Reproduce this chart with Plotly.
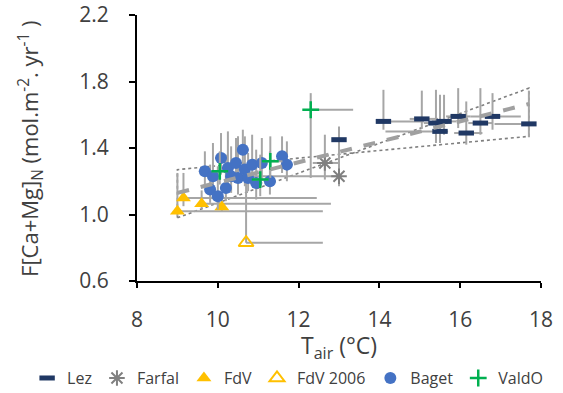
import plotly.graph_objects as go

# ---------------- data ----------------
lez_x = [13.0, 14.1, 15.05, 15.4, 15.5, 15.6, 15.95, 16.15, 16.5, 16.8, 17.7]
lez_y = [1.45, 1.56, 1.575, 1.55, 1.50, 1.56, 1.59, 1.49, 1.55, 1.59, 1.545]
lez_ey_plus = [0.08, 0.19, 0.17, 0.20, 0.22, 0.16, 0.17, 0.19, 0.21, 0.14, 0.20]
lez_ey_minus = [0.25, 0.05, 0.06, 0.12, 0.07, 0.08, 0.07, 0.07, 0.07, 0.08, 0.08]
lez_ex_plus = [0.0, 1.0, 0.4, 0.3, 0.2, 0.3, 0.3, 0.4, 0.3, 0.7, 0.0]
lez_ex_minus = [0.0, 0.0, 0.3, 0.3, 1.35, 0.3, 0.3, 0.3, 0.3, 0.55, 0.85]

far_x = [12.65, 13.0]
far_y = [1.31, 1.23]
far_ey_plus = [0.17, 0.12]
far_ey_minus = [0.10, 0.06]
far_ex_plus = [0.35, 0.0]
far_ex_minus = [0.3, 2.3]

fdv_x = [9.0, 9.15, 9.6, 10.1]
fdv_y = [1.02, 1.10, 1.065, 1.045]
fdv_ey_plus = [0.23, 0.15, 0.08, 0.05]
fdv_ey_minus = [0.03, 0.05, 0.03, 0.03]
fdv_ex_plus = [3.6, 3.3, 3.2, 0.0]
fdv_ex_minus = [0.0, 0.0, 0.0, 0.0]

fdv06_x = [10.7]
fdv06_y = [0.83]
fdv06_ey_plus = [0.45]
fdv06_ex_plus = [1.9]

baget_x = [9.68, 9.81, 9.88, 10.0, 10.08, 10.2, 10.25, 10.33, 10.45, 10.5,
           10.62, 10.67, 10.75, 10.85, 10.95, 11.09, 11.29, 11.59, 11.71]
baget_y = [1.26, 1.15, 1.23, 1.11, 1.34, 1.16, 1.28, 1.23, 1.31, 1.22,
           1.39, 1.27, 1.22, 1.30, 1.19, 1.31, 1.20, 1.35, 1.30]
baget_ey_plus = [0.12, 0.15, 0.20, 0.18, 0.15, 0.20, 0.22, 0.18, 0.15, 0.25,
                 0.12, 0.20, 0.15, 0.18, 0.20, 0.15, 0.18, 0.12, 0.14]
baget_ey_minus = [0.10, 0.08, 0.10, 0.08, 0.10, 0.08, 0.10, 0.10, 0.10, 0.10,
                  0.10, 0.10, 0.08, 0.10, 0.10, 0.10, 0.08, 0.10, 0.10]
baget_ex = [0.15, 0.1, 0.15, 0.1, 0.15, 0.1, 0.15, 0.1, 0.15, 0.1,
            0.15, 0.1, 0.15, 0.1, 0.15, 0.1, 0.15, 0.1, 0.15]

val_x = [10.05, 11.05, 11.3, 12.3]
val_y = [1.26, 1.21, 1.32, 1.63]
val_ey_plus = [0.12, 0.15, 0.15, 0.10]
val_ey_minus = [0.08, 0.10, 0.10, 0.41]
val_ex_plus = [0.2, 0.2, 0.3, 1.05]
val_ex_minus = [0.2, 0.2, 0.2, 0.0]

trend_x = [9.0, 17.7]
trend_y = [1.13, 1.665]
bound_x = [9.0, 17.7, 17.7, 9.0, 9.0]
bound_y = [0.98, 1.76, 1.47, 1.27, 0.98]

x_ticks = [8, 10, 12, 14, 16, 18]
y_ticks = [0.6, 1.0, 1.4, 1.8, 2.2]

# ---------------- style ----------------
FONT = "Open Sans"
TXT = "#404040"
ERR = "#A6A6A6"


def eb(plus, minus):
    return dict(type="data", symmetric=False, array=plus, arrayminus=minus,
                color=ERR, thickness=2, width=0)


fig = go.Figure()

fig.add_trace(go.Scatter(x=bound_x, y=bound_y, mode="lines", showlegend=False,
                         line=dict(color="#7F7F7F", width=1.6, dash="dot"), hoverinfo="skip"))

fig.add_trace(go.Scatter(
    x=lez_x, y=lez_y, mode="markers", name="Lez",
    marker=dict(symbol="line-ew", size=11, line=dict(color="#203864", width=5)),
    error_y=eb(lez_ey_plus, lez_ey_minus), error_x=eb(lez_ex_plus, lez_ex_minus)))

fig.add_trace(go.Scatter(
    x=far_x, y=far_y, mode="markers", name="Farfal",
    marker=dict(symbol="asterisk", size=13, line=dict(color="#808080", width=2)),
    error_y=eb(far_ey_plus, far_ey_minus), error_x=eb(far_ex_plus, far_ex_minus)))

fig.add_trace(go.Scatter(
    x=fdv_x, y=fdv_y, mode="markers", name="FdV",
    marker=dict(symbol="triangle-up", size=13, color="#FFC000"),
    error_y=eb(fdv_ey_plus, fdv_ey_minus), error_x=eb(fdv_ex_plus, fdv_ex_minus)))

fig.add_trace(go.Scatter(
    x=fdv06_x, y=fdv06_y, mode="markers", name="FdV 2006",
    marker=dict(symbol="triangle-up-open", size=13, color="#FFC000", line=dict(width=2)),
    error_y=eb(fdv06_ey_plus, [0]), error_x=eb(fdv06_ex_plus, [0])))

fig.add_trace(go.Scatter(
    x=baget_x, y=baget_y, mode="markers", name="Baget",
    marker=dict(symbol="circle", size=12, color="#4472C4"),
    error_y=eb(baget_ey_plus, baget_ey_minus), error_x=eb(baget_ex, baget_ex)))

fig.add_trace(go.Scatter(
    x=val_x, y=val_y, mode="markers", name="ValdO",
    marker=dict(symbol="cross-thin", size=12, line=dict(color="#00B050", width=2.5)),
    error_y=eb(val_ey_plus, val_ey_minus), error_x=eb(val_ex_plus, val_ex_minus)))

fig.add_trace(go.Scatter(x=trend_x, y=trend_y, mode="lines", showlegend=False,
                         line=dict(color="#A0A0A0", width=4, dash="dash"), hoverinfo="skip"))

fig.update_layout(
    width=563, height=393,
    margin=dict(l=137, r=22, t=15, b=112, autoexpand=False),
    paper_bgcolor="white", plot_bgcolor="white",
    font=dict(family=FONT, color=TXT, size=16),
    showlegend=True,
    legend=dict(orientation="h", x=-0.272, xanchor="left", y=-0.365, yanchor="middle",
                font=dict(size=16, color=TXT), itemwidth=30, tracegroupgap=0),
    xaxis=dict(range=[8, 18], tickvals=x_ticks, ticktext=[str(v) for v in x_ticks],
               showgrid=False, zeroline=False, showline=True, linecolor="black", linewidth=2,
               ticks="outside", ticklen=5, tickcolor="black", tickwidth=1.5, automargin=False,
               ticklabelstandoff=14, tickfont=dict(size=21, color=TXT)),
    yaxis=dict(range=[0.6, 2.2], tickvals=y_ticks, ticktext=[f"{v:.1f}" for v in y_ticks],
               showgrid=False, zeroline=False, showline=True, linecolor="black", linewidth=2,
               ticks="outside", ticklen=6, tickcolor="black", tickwidth=1.5, automargin=False,
               ticklabelstandoff=16, tickfont=dict(size=21, color=TXT)),
    annotations=[
        dict(text="F[Ca+Mg]<sub>N</sub> (mol.m<sup>-2</sup>. yr<sup>-1</sup> )",
             xref="paper", yref="paper", x=-0.265, y=0.5, xanchor="center", yanchor="middle",
             textangle=-90, showarrow=False, font=dict(size=22, color=TXT)),
        dict(text="T<sub>air</sub> (°C)", xref="paper", yref="paper", x=0.5, y=-0.245,
             xanchor="center", yanchor="middle", showarrow=False, font=dict(size=23, color=TXT)),
    ],
)

fig.write_html("out.html", config={"displayModeBar": False},
               post_script="document.body.style.margin='0';")
